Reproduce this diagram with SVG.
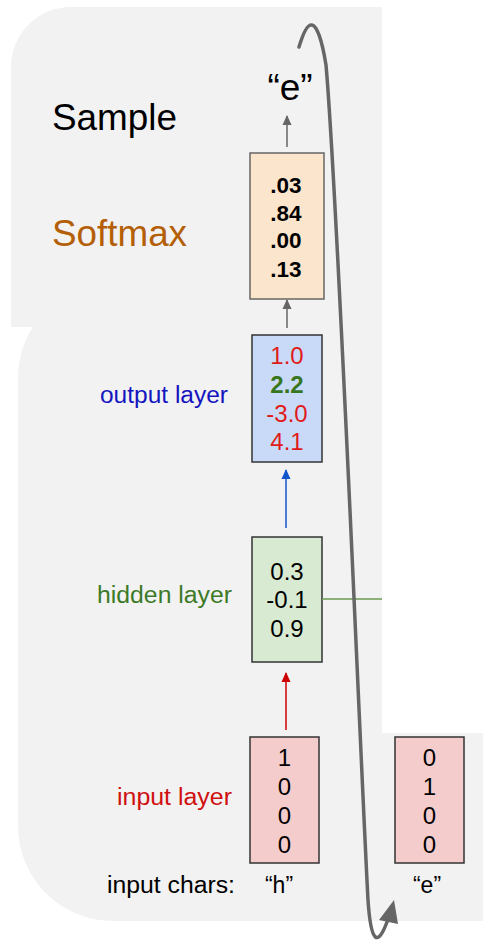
<svg xmlns="http://www.w3.org/2000/svg" width="483" height="946" viewBox="0 0 483 946">
  <style>
    .panel { fill: #f2f2f2; stroke: none; }
    .lbl { font-family: "Liberation Sans", Arial, sans-serif; }
    .num { font-family: "Liberation Sans", Arial, sans-serif; font-size: 24px; text-anchor: middle; }
    .sm { font-size: 22.5px; font-weight: bold; fill: #000000; }
    .box { stroke: #333333; stroke-width: 1.5; }
  </style>
  <defs>
    <marker id="ahGray" markerWidth="10" markerHeight="10" refX="9" refY="5" orient="auto" markerUnits="userSpaceOnUse">
      <path d="M0,0.5 L10,5 L0,9.5 Z" fill="#666666"/>
    </marker>
    <marker id="ahBlue" markerWidth="10" markerHeight="10" refX="9" refY="5" orient="auto" markerUnits="userSpaceOnUse">
      <path d="M0,0.5 L10,5 L0,9.5 Z" fill="#1155cc"/>
    </marker>
    <marker id="ahRed" markerWidth="10" markerHeight="10" refX="9" refY="5" orient="auto" markerUnits="userSpaceOnUse">
      <path d="M0,0.5 L10,5 L0,9.5 Z" fill="#cc0000"/>
    </marker>
  </defs>

  <g id="background">
    <path class="panel" d="M18,378 A95,95 0 0 1 113,283 L382,283 L382,733 L483,733 L483,921 L113,921 A95,95 0 0 1 18,826 Z"/>
    <path class="panel" d="M11,67 A60,60 0 0 1 71,7 L382,7 L382,327 L11,327 Z"/>
  </g>

  <g id="labels" class="lbl">
    <text x="52" y="130" font-size="36" fill="#000000" textLength="125" lengthAdjust="spacingAndGlyphs">Sample</text>
    <text x="52" y="246" font-size="36" fill="#b45f06" textLength="135" lengthAdjust="spacingAndGlyphs">Softmax</text>
    <text x="100" y="403" font-size="23" fill="#1515c0" textLength="128" lengthAdjust="spacingAndGlyphs">output layer</text>
    <text x="97" y="603" font-size="23" fill="#3d7a28" textLength="135" lengthAdjust="spacingAndGlyphs">hidden layer</text>
    <text x="117" y="805" font-size="23" fill="#d01010" textLength="115" lengthAdjust="spacingAndGlyphs">input layer</text>
    <text x="107" y="893" font-size="23" fill="#000000" textLength="128" lengthAdjust="spacingAndGlyphs">input chars:</text>
  </g>

  <g id="sample-output">
    <text x="290" y="100" font-size="37" fill="#000000" class="lbl" text-anchor="middle">“e”</text>
  </g>

  <g id="softmax-box">
    <rect x="250" y="153" width="74" height="146" fill="#fce5cd" stroke="#666666" stroke-width="1.5"/>
    <text class="num sm" x="286" y="193">.03</text>
    <text class="num sm" x="286" y="221">.84</text>
    <text class="num sm" x="286" y="248">.00</text>
    <text class="num sm" x="286" y="277">.13</text>
  </g>

  <g id="output-box">
    <rect class="box" x="252" y="335" width="70" height="127" fill="#c9daf8"/>
    <text class="num" x="287" y="364" fill="#e01b1b">1.0</text>
    <text class="num" x="287" y="393" fill="#38761d" font-weight="bold">2.2</text>
    <text class="num" x="287" y="422" fill="#e01b1b">-3.0</text>
    <text class="num" x="287" y="450" fill="#e01b1b">4.1</text>
  </g>

  <g id="hidden-box">
    <rect class="box" x="252" y="537" width="70" height="125" fill="#d9ead3"/>
    <text class="num" x="287" y="580" fill="#000000">0.3</text>
    <text class="num" x="287" y="608" fill="#000000">-0.1</text>
    <text class="num" x="287" y="637" fill="#000000">0.9</text>
  </g>

  <g id="input-box-h">
    <rect class="box" x="250" y="737" width="69" height="126" fill="#f4cccc"/>
    <text class="num" x="284.5" y="766" fill="#000000">1</text>
    <text class="num" x="284.5" y="795" fill="#000000">0</text>
    <text class="num" x="284.5" y="824" fill="#000000">0</text>
    <text class="num" x="284.5" y="853" fill="#000000">0</text>
    <text class="lbl" x="279" y="893" font-size="23" fill="#000000" text-anchor="middle">“h”</text>
  </g>

  <g id="input-box-e">
    <rect class="box" x="395" y="737" width="69" height="126" fill="#f4cccc"/>
    <text class="num" x="429.5" y="766" fill="#000000">0</text>
    <text class="num" x="429.5" y="795" fill="#000000">1</text>
    <text class="num" x="429.5" y="824" fill="#000000">0</text>
    <text class="num" x="429.5" y="853" fill="#000000">0</text>
    <text class="lbl" x="427" y="893" font-size="23" fill="#000000" text-anchor="middle">“e”</text>
  </g>

  <g id="connectors" fill="none">
    <line x1="287" y1="147" x2="287" y2="116" stroke="#666666" stroke-width="1.5" marker-end="url(#ahGray)"/>
    <line x1="287" y1="328" x2="287" y2="300" stroke="#666666" stroke-width="1.5" marker-end="url(#ahGray)"/>
    <line x1="286" y1="528" x2="286" y2="470" stroke="#1155cc" stroke-width="1.5" marker-end="url(#ahBlue)"/>
    <line x1="286" y1="730" x2="286" y2="673" stroke="#cc0000" stroke-width="1.5" marker-end="url(#ahRed)"/>
    <line x1="322" y1="599" x2="382" y2="599" stroke="#6a9a50" stroke-width="1.5"/>
    <path d="M299,47 C304,30 308,24 312,25 C317,26 322,40 326,65 C338,200 360,750 368,900 C371,945 378,946 387,922" stroke="#666666" stroke-width="3.5" stroke-linecap="round"/>
    <polygon points="394,900 379,920 398,924" fill="#666666"/>
  </g>
</svg>
